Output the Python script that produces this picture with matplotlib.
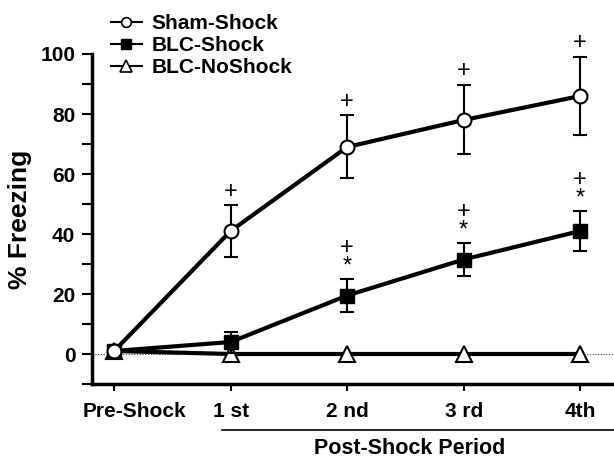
import numpy as np
import matplotlib
matplotlib.use("Agg")
import matplotlib.pyplot as plt
from matplotlib.lines import Line2D
from matplotlib.transforms import ScaledTranslation

plt.rcParams["font.family"] = ["Liberation Sans", "DejaVu Sans"]
plt.rcParams["font.weight"] = "bold"

periods = ["Pre-Shock", "1 st", "2 nd", "3 rd", "4th"]
sham_mean = [1, 41, 69, 78, 86]
sham_err = [0, 8.5, 10.5, 11.5, 13]
blc_mean = [1, 4, 19.5, 31.5, 41]
blc_err = [0, 3.5, 5.5, 5.5, 6.5]
noshock_mean = [1, 0, 0, 0, 0]
sham_marks = ["", "+", "+", "+", "+"]
blc_marks = ["", "", "+\n*", "+\n*", "+\n*"]

x = np.arange(len(periods))

fig = plt.figure(figsize=(6.14, 4.62), dpi=100)
ax = fig.add_axes([92 / 614, 78 / 462, 1 - 92 / 614, (384 - 54) / 462])

ax.axhline(0, color="#444", lw=0.8, ls=(0, (1, 1.5)), zorder=1)

ax.errorbar(x, sham_mean, yerr=sham_err, color="black", lw=3, marker="o", ms=10,
            mfc="white", mec="black", mew=1.5, ecolor="black", elinewidth=1.5,
            capsize=5, capthick=1.5, zorder=4)
ax.errorbar(x, blc_mean, yerr=blc_err, color="black", lw=3, marker="s", ms=10,
            mfc="black", mec="black", ecolor="black", elinewidth=1.5,
            capsize=5, capthick=1.5, zorder=3)
ax.plot(x, noshock_mean, color="black", lw=3, marker="^", ms=12, mfc="white",
        mec="black", mew=1.5, zorder=2)

for xi, m, e, s in zip(x, sham_mean, sham_err, sham_marks):
    if s:
        ax.text(xi, m + e + 1, s, ha="center", va="bottom", fontsize=17,
                fontweight="normal")
for xi, m, e, s in zip(x, blc_mean, blc_err, blc_marks):
    if s:
        ax.text(xi, m + e + 0.5, s, ha="center", va="bottom", fontsize=17,
                fontweight="normal", linespacing=0.8)

ax.set_xlim(-0.19, 4.29)
ax.set_ylim(-10, 100)
ax.set_yticks([0, 20, 40, 60, 80, 100])
ax.set_yticks(np.arange(-10, 100, 10), minor=True)
ax.set_xticks(x)
ax.set_xticklabels(periods)
ax.tick_params(axis="y", which="major", direction="out", length=7, width=1.5,
               labelsize=15, pad=5)
ax.tick_params(axis="y", which="minor", direction="out", length=7, width=1.5)
ax.tick_params(axis="x", direction="out", length=5, width=1.5, labelsize=15, pad=8)
for lab in ax.get_xticklabels() + ax.get_yticklabels():
    lab.set_fontweight("bold")
# the first label sits shifted to the right in the original
xl0 = ax.get_xticklabels()[0]
xl0.set_transform(xl0.get_transform() + ScaledTranslation(20 / 100, 0, fig.dpi_scale_trans))

for side in ["top", "right"]:
    ax.spines[side].set_visible(False)
ax.spines["left"].set_linewidth(2.5)
ax.spines["bottom"].set_linewidth(2.5)
ax.spines["left"].set_bounds(-10, 100)

ax.set_ylabel("% Freezing", fontsize=19, fontweight="bold", labelpad=6)

# post-shock bracket
fig.add_artist(Line2D([222 / 614, 1.0], [1 - 430 / 462] * 2, color="black", lw=1.2))
fig.text(410 / 614, 1 - 449 / 462, "Post-Shock Period", ha="center", va="center",
         fontsize=15.5, fontweight="bold")

handles = [
    Line2D([], [], color="black", lw=1.5, marker="o", ms=7, mfc="white", mec="black", mew=1.2),
    Line2D([], [], color="black", lw=1.5, marker="s", ms=7, mfc="black", mec="black"),
    Line2D([], [], color="black", lw=1.5, marker="^", ms=8, mfc="white", mec="black", mew=1.2),
]
leg = fig.legend(handles, ["Sham-Shock", "BLC-Shock", "BLC-NoShock"],
                 loc="upper left", bbox_to_anchor=(92 / 614, 1.01), frameon=False,
                 fontsize=15, handlelength=1.5, handletextpad=0.45, labelspacing=0.15)
for t in leg.get_texts():
    t.set_fontweight("bold")

fig.savefig("out.png", dpi=100)
